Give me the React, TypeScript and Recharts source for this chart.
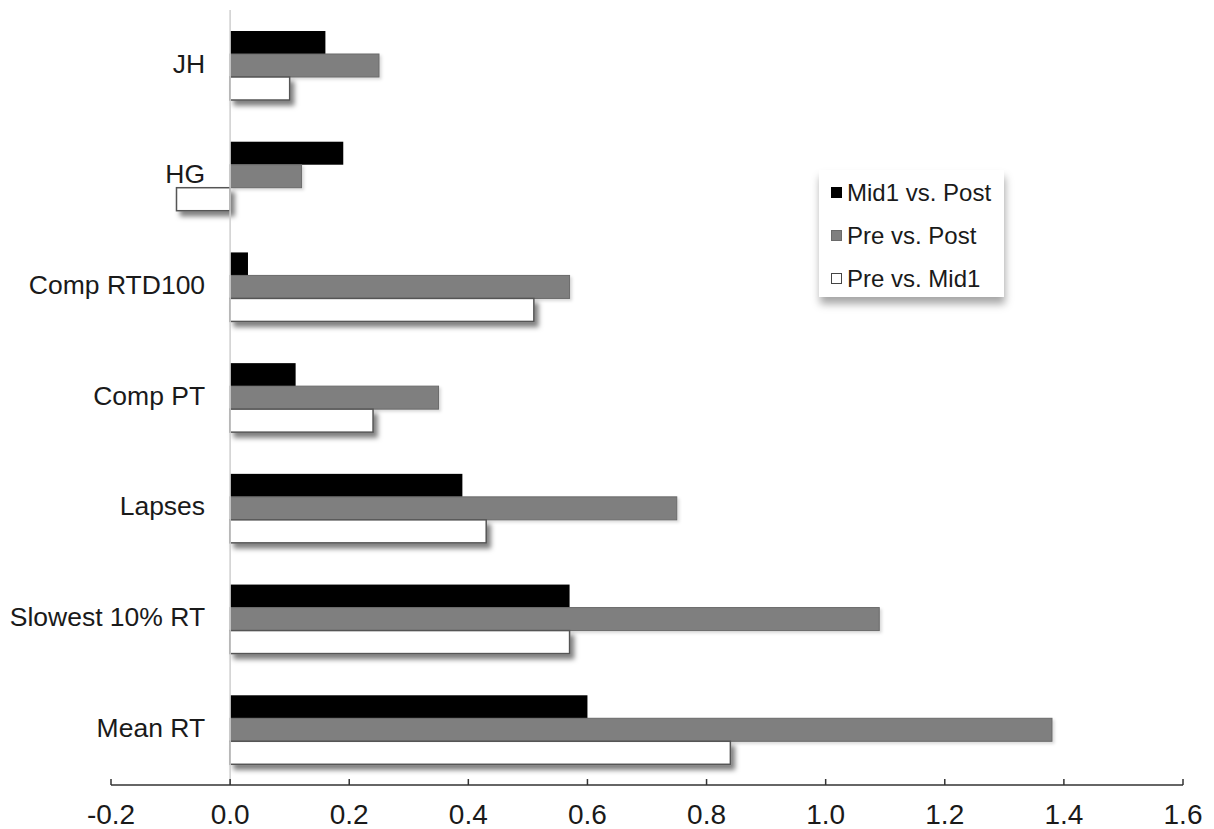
import React from 'react';
import { BarChart, Bar, XAxis, YAxis, ReferenceLine, Legend } from 'recharts';

const categories = ['JH', 'HG', 'Comp RTD100', 'Comp PT', 'Lapses', 'Slowest 10% RT', 'Mean RT'];
const mid1VsPost = [0.16, 0.19, 0.03, 0.11, 0.39, 0.57, 0.60];
const preVsPost = [0.25, 0.12, 0.57, 0.35, 0.75, 1.09, 1.38];
const preVsMid1 = [0.10, -0.09, 0.51, 0.24, 0.43, 0.57, 0.84];
const xTicks = [-0.2, 0, 0.2, 0.4, 0.6, 0.8, 1.0, 1.2, 1.4, 1.6];
const seriesOrder = ['mid1VsPost', 'preVsPost', 'preVsMid1'];

const data = categories.map((name, i) => ({
  name,
  mid1VsPost: mid1VsPost[i],
  preVsPost: preVsPost[i],
  preVsMid1: preVsMid1[i],
}));

const FONT = '"Liberation Sans", Arial, sans-serif';
const CHART_W = 1206;
const CHART_H = 821;
const Y_AXIS_W = 103;
const MARGIN = { top: 2, right: 31, bottom: 4, left: 0 };
const PLOT_W = CHART_W - Y_AXIS_W - MARGIN.left - MARGIN.right;
const ZERO_OFFSET = PLOT_W * (0.2 / 1.8);

const makeShape = (fill: string, stroke: string, strokeWidth: number, filter?: string) => (props: any) => {
  const { x, y, width, height } = props;
  if (width == null || height == null) return null;
  const rx = Math.min(x, x + width);
  const rw = Math.abs(width);
  return (
    <rect
      x={rx}
      y={y}
      width={rw}
      height={height}
      fill={fill}
      stroke={stroke}
      strokeWidth={strokeWidth}
      filter={filter}
    />
  );
};

const CategoryTick = (props: any) => {
  const { x, y, payload } = props;
  return (
    <text
      x={x + ZERO_OFFSET - 25}
      y={y - 2}
      dy="0.35em"
      textAnchor="end"
      fontFamily={FONT}
      fontSize={26.5}
      fill="#1a1a1a"
    >
      {payload.value}
    </text>
  );
};

const LegendBox = (props: any) => {
  const payload = [...(props.payload || [])].sort(
    (a: any, b: any) => seriesOrder.indexOf(a.dataKey) - seriesOrder.indexOf(b.dataKey)
  );
  const markers: Record<string, { fill: string; border: string }> = {
    mid1VsPost: { fill: '#000', border: '#000' },
    preVsPost: { fill: '#7f7f7f', border: '#6a6a6a' },
    preVsMid1: { fill: '#fff', border: '#444' },
  };
  return (
    <div
      style={{
        width: 185,
        height: 127,
        background: '#fff',
        boxShadow: '1px 7px 8px rgba(0,0,0,0.35)',
        boxSizing: 'border-box',
        paddingTop: 1,
        paddingLeft: 12,
        fontFamily: FONT,
        fontSize: 24,
        color: '#1a1a1a',
        whiteSpace: 'nowrap',
      }}
    >
      {payload.map((entry: any) => {
        const m = markers[entry.dataKey] || { fill: entry.color, border: entry.color };
        return (
          <div key={entry.value} style={{ display: 'flex', alignItems: 'center', height: 43 }}>
            <span
              style={{
                display: 'inline-block',
                width: 11,
                height: 11,
                background: m.fill,
                border: `1px solid ${m.border}`,
                boxSizing: 'border-box',
                marginRight: 5,
              }}
            />
            <span>{entry.value}</span>
          </div>
        );
      })}
    </div>
  );
};

export default function App() {
  return (
    <div style={{ width: CHART_W, height: CHART_H, background: '#fff' }}>
      <BarChart
        width={CHART_W}
        height={CHART_H}
        data={data}
        layout="vertical"
        margin={MARGIN}
        barSize={23}
        barGap={0}
      >
        <defs>
          <filter id="shadowWhite" x="-10%" y="-40%" width="130%" height="220%">
            <feDropShadow dx="4" dy="5" stdDeviation="2.5" floodColor="#000" floodOpacity="0.5" />
          </filter>
          <filter id="shadowGray" x="-10%" y="-40%" width="130%" height="220%">
            <feDropShadow dx="2" dy="2" stdDeviation="1.5" floodColor="#000" floodOpacity="0.15" />
          </filter>
        </defs>
        <XAxis
          type="number"
          domain={[-0.2, 1.6]}
          ticks={xTicks}
          allowDataOverflow
          height={40}
          tickFormatter={(v: number) => v.toFixed(1)}
          axisLine={{ stroke: '#333', strokeWidth: 1.5 }}
          tickLine={{ stroke: '#333', strokeWidth: 1.5 }}
          tickSize={-6}
          tickMargin={25}
          tick={{ fontFamily: FONT, fontSize: 28, fill: '#1a1a1a' }}
          interval={0}
        />
        <YAxis
          type="category"
          dataKey="name"
          width={Y_AXIS_W}
          axisLine={false}
          tickLine={false}
          tickSize={0}
          tickMargin={0}
          tick={<CategoryTick />}
          interval={0}
        />
        <ReferenceLine x={0} stroke="#cfcfcf" strokeWidth={1.5} />
        <Bar
          dataKey="mid1VsPost"
          name="Mid1 vs. Post"
          fill="#000"
          isAnimationActive={false}
          shape={makeShape('#000', 'none', 0)}
        />
        <Bar
          dataKey="preVsPost"
          name="Pre vs. Post"
          fill="#7f7f7f"
          isAnimationActive={false}
          shape={makeShape('#7f7f7f', '#6a6a6a', 1, 'url(#shadowGray)')}
        />
        <Bar
          dataKey="preVsMid1"
          name="Pre vs. Mid1"
          fill="#fff"
          isAnimationActive={false}
          shape={makeShape('#fff', '#555', 1.5, 'url(#shadowWhite)')}
        />
        <Legend
          layout="vertical"
          align="center"
          verticalAlign="middle"
          content={<LegendBox />}
          wrapperStyle={{ position: 'absolute', left: 811, top: 162, width: 185, height: 127 }}
        />
      </BarChart>
    </div>
  );
}
